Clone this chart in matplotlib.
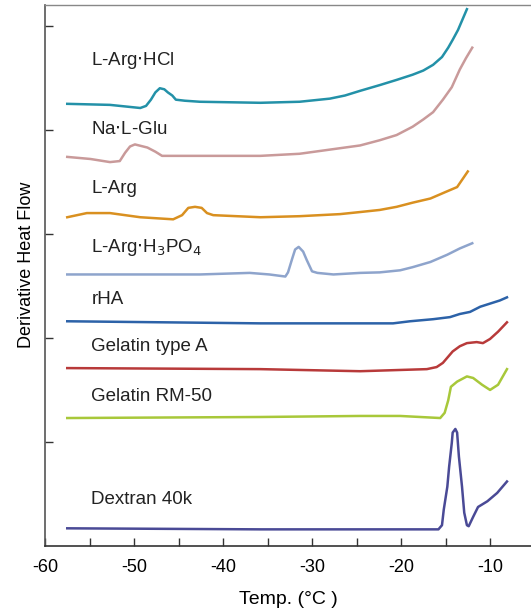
import numpy as np
import matplotlib
matplotlib.use('Agg')
import matplotlib.pyplot as plt

plt.rcParams['font.family'] = ['Liberation Sans', 'DejaVu Sans']
plt.rcParams['axes.unicode_minus'] = False

# temperatures (C) and derivative heat flow (arb. units, offset curves)
t_hcl = [-57.5, -52.7, -49.3, -48.65, -48.1, -47.6, -47.1, -46.6, -46.2, -45.7,
         -45.3, -44.3, -42.6, -35.8, -31.4, -28.0, -26.3, -24.6, -22.4, -20.5,
         -18.7, -17.5, -16.4, -15.4, -14.7, -14.2, -13.6, -13.0, -12.6]
y_hcl = [4.25, 4.24, 4.21, 4.23, 4.29, 4.36, 4.40, 4.39, 4.36, 4.33,
         4.29, 4.28, 4.27, 4.26, 4.27, 4.30, 4.33, 4.375, 4.43, 4.48,
         4.53, 4.57, 4.625, 4.70, 4.79, 4.865, 4.96, 5.08, 5.16]

t_glu = [-57.5, -54.9, -52.7, -51.6, -51.0, -50.45, -49.9, -48.5, -47.6, -46.85,
         -35.8, -31.4, -28.0, -24.6, -22.4, -20.5, -18.7, -17.5, -16.4, -15.3,
         -14.3, -13.4, -12.7, -12.0]
y_glu = [3.74, 3.72, 3.69, 3.70, 3.78, 3.84, 3.86, 3.83, 3.79, 3.75,
         3.75, 3.77, 3.81, 3.85, 3.90, 3.95, 4.03, 4.10, 4.17, 4.29,
         4.41, 4.58, 4.69, 4.79]

t_arg = [-57.5, -55.3, -52.7, -49.3, -45.6, -44.6, -43.9, -43.15, -42.4, -41.8,
         -41.1, -35.8, -31.4, -26.85, -24.6, -22.4, -20.5, -18.7, -16.7, -14.8,
         -13.7, -12.5]
y_arg = [3.16, 3.20, 3.20, 3.16, 3.14, 3.18, 3.25, 3.26, 3.25, 3.20,
         3.18, 3.16, 3.17, 3.19, 3.21, 3.23, 3.26, 3.30, 3.34, 3.41,
         3.45, 3.60]

t_h3po4 = [-57.5, -42.6, -37.0, -34.8, -33.0, -32.7, -32.2, -31.9, -31.5, -31.0,
           -30.6, -30.0, -29.4, -27.6, -24.6, -22.4, -20.1, -18.7, -16.7, -14.8,
           -13.4, -12.0]
y_h3po4 = [2.61, 2.61, 2.625, 2.61, 2.59, 2.63, 2.77, 2.85, 2.875, 2.83,
           2.75, 2.64, 2.625, 2.61, 2.625, 2.63, 2.65, 2.68, 2.73, 2.80,
           2.86, 2.91]

t_rha = [-57.5, -35.8, -20.9, -19.0, -16.4, -14.5, -13.4, -12.25, -11.1, -10.0,
         -8.9, -8.1]
y_rha = [2.16, 2.14, 2.14, 2.16, 2.18, 2.20, 2.23, 2.25, 2.30, 2.33,
         2.36, 2.39]

t_gela = [-57.5, -35.8, -24.6, -17.1, -16.0, -15.3, -14.7, -14.2, -13.4, -12.6,
          -11.5, -10.8, -10.0, -9.1, -8.1]
y_gela = [1.71, 1.70, 1.68, 1.70, 1.72, 1.76, 1.82, 1.87, 1.92, 1.95,
          1.96, 1.95, 1.99, 2.06, 2.15]

t_rm50 = [-57.5, -35.8, -24.6, -20.1, -15.6, -15.1, -14.7, -14.4, -13.7, -12.6,
          -11.9, -10.9, -10.0, -9.1, -8.1]
y_rm50 = [1.23, 1.24, 1.25, 1.25, 1.23, 1.28, 1.40, 1.53, 1.58, 1.63,
          1.615, 1.55, 1.50, 1.55, 1.70]

t_dex = [-57.5, -35.8, -20.1, -15.8, -15.4, -15.2, -14.8, -14.6, -14.3, -14.2,
         -13.9, -13.7, -13.5, -13.15, -12.9, -12.6, -12.4, -11.9, -11.35, -10.3,
         -9.2, -8.1]
y_dex = [0.17, 0.16, 0.16, 0.16, 0.20, 0.35, 0.57, 0.76, 0.99, 1.09,
         1.125, 1.09, 0.86, 0.57, 0.32, 0.20, 0.19, 0.28, 0.375, 0.43,
         0.51, 0.62]

labels = ['L-Arg$\\cdot$HCl', 'Na$\\cdot$L-Glu', 'L-Arg', 'L-Arg$\\cdot$H$_3$PO$_4$',
          'rHA', 'Gelatin type A', 'Gelatin RM-50', 'Dextran 40k']
label_y = [4.67, 4.0, 3.44, 2.87, 2.37, 1.92, 1.44, 0.45]
colors = ['#2391a8', '#c99a9a', '#d99020', '#8ea4cc',
          '#2c62a8', '#b83a3a', '#a8c83a', '#4a4a96']

curves = [(t_hcl, y_hcl), (t_glu, y_glu), (t_arg, y_arg), (t_h3po4, y_h3po4),
          (t_rha, y_rha), (t_gela, y_gela), (t_rm50, y_rm50), (t_dex, y_dex)]

fig = plt.figure(figsize=(5.31, 6.15), dpi=100)
ax = fig.add_axes([45/531, 69/615, 1 - 45/531, 541/615])

for (t, y), c in zip(curves, colors):
    ax.plot(t, y, color=c, lw=1.8, solid_joinstyle='round')

for lab, ly in zip(labels, label_y):
    ax.text(-54.8, ly, lab, fontsize=13.5, va='center', ha='left', color='#222222')

ax.set_xlim(-60, -5.4)
ax.set_ylim(0, 5.2)
ax.set_xticks([-60, -50, -40, -30, -20, -10])
ax.set_xticks([-55, -45, -35, -25, -15], minor=True)
ax.set_yticks([1, 2, 3, 4, 5])
ax.set_yticklabels([])
ax.tick_params(which='both', direction='in', length=6, width=1, color='#333333')
ax.tick_params(axis='x', labelsize=13, pad=9)

ax.spines['right'].set_visible(False)
ax.spines['top'].set_color('#888888')
ax.spines['top'].set_linewidth(1.0)
ax.spines['left'].set_color('#555555')
ax.spines['bottom'].set_color('#333333')
ax.spines['left'].set_linewidth(1.2)
ax.spines['bottom'].set_linewidth(1.2)

ax.set_xlabel('Temp. (°C )', fontsize=14, labelpad=11)
ax.set_ylabel('Derivative Heat Flow', fontsize=13, labelpad=4, y=0.52)

fig.savefig('out.png', dpi=100)
